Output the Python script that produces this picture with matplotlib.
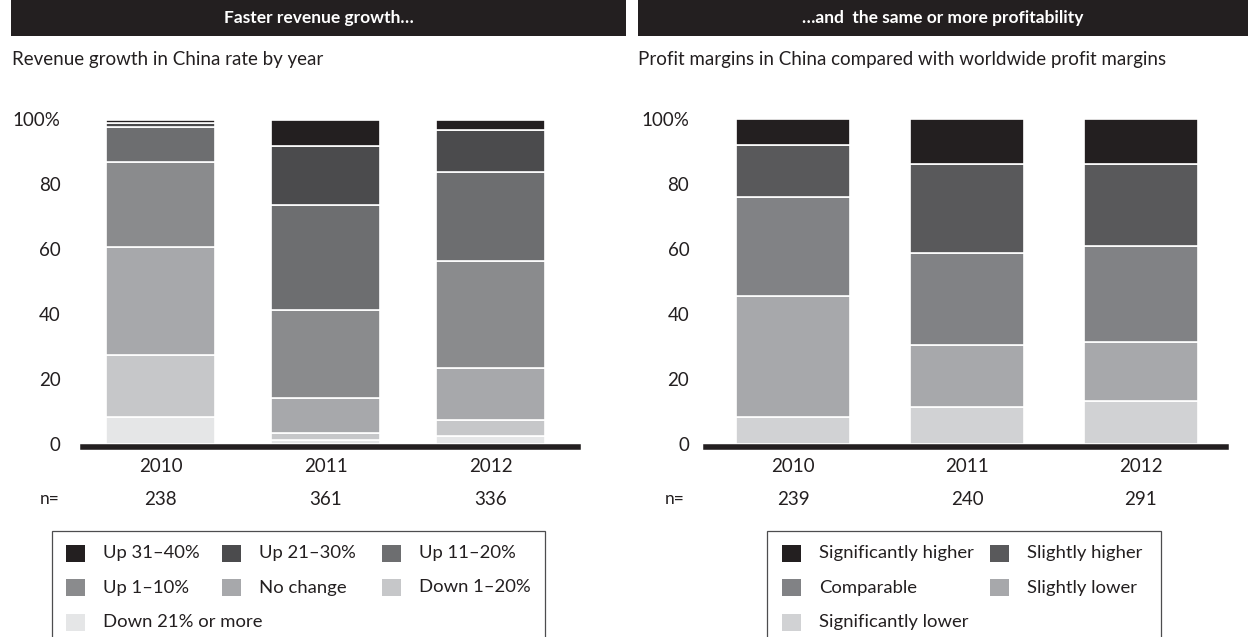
import matplotlib
matplotlib.use('Agg')
import matplotlib.pyplot as plt
from matplotlib.patches import Rectangle

plt.rcParams['font.family'] = ['Lato', 'DejaVu Sans']

W, H = 1248, 637

years = ['2010', '2011', '2012']
n_rev = ['238', '361', '336']
n_prof = ['239', '240', '291']

# Crecimiento de ingresos (de abajo hacia arriba)
rev_labels = ['Down 21% or more', 'Down 1–20%', 'No change', 'Up 1–10%',
              'Up 11–20%', 'Up 21–30%', 'Up 31–40%']
rev_colors = ['#e5e6e7', '#c6c7c9', '#a7a8ab', '#8a8b8d',
              '#6d6e70', '#4b4b4d', '#231f20']
rev_down21 = [8.3, 1.1, 2.4]
rev_down1_20 = [19.1, 2.3, 4.9]
rev_nochange = [33.2, 10.8, 16.0]
rev_up1_10 = [26.1, 27.1, 33.1]
rev_up11_20 = [10.9, 32.2, 27.3]
rev_up21_30 = [1.2, 18.1, 13.0]
rev_up31_40 = [0.8, 8.0, 2.9]
rev_series = [rev_down21, rev_down1_20, rev_nochange, rev_up1_10,
              rev_up11_20, rev_up21_30, rev_up31_40]

# Margenes (de abajo hacia arriba)
prof_labels = ['Significantly lower', 'Slightly lower', 'Comparable',
               'Slightly higher', 'Significantly higher']
prof_colors = ['#d1d2d4', '#a7a8ab', '#818285', '#59595b', '#231f20']
prof_sig_lower = [8.4, 11.3, 13.3]
prof_sl_lower = [37.1, 19.2, 18.2]
prof_comparable = [30.4, 28.3, 29.3]
prof_sl_higher = [16.0, 27.3, 25.3]
prof_sig_higher = [8.1, 13.9, 13.9]
prof_series = [prof_sig_lower, prof_sl_lower, prof_comparable,
               prof_sl_higher, prof_sig_higher]

DARK = '#231f20'
TXT = '#231f20'


def rect(x0, y0, x1, y1):
    # pixeles (arriba-izquierda) -> coordenadas de figura
    return [x0 / W, 1 - y1 / H, (x1 - x0) / W, (y1 - y0) / H]


fig = plt.figure(figsize=(W / 100, H / 100), dpi=100)

# Cabeceras negras
for (x0, x1, title) in [(11, 626, 'Faster revenue growth…'),
                        (638, 1248, '…and  the same or more profitability')]:
    r = rect(x0, 0, x1, 36)
    fig.patches.append(Rectangle((r[0], r[1]), r[2], r[3], transform=fig.transFigure,
                                 facecolor=DARK, edgecolor='none'))
    fig.text(r[0] + r[2] / 2, r[1] + r[3] / 2, title, color='white', fontsize=12.5,
             fontweight='bold', ha='center', va='center')

fig.text(12 / W, 1 - 60 / H, 'Revenue growth in China rate by year',
         fontsize=13.5, color=TXT, va='center', ha='left')
fig.text(638 / W, 1 - 60 / H, 'Profit margins in China compared with worldwide profit margins',
         fontsize=13.5, color=TXT, va='center', ha='left')


def panel(box, series, colors, nvals, xlim, n_x, ypad):
    ax = fig.add_axes(rect(*box))
    x = range(len(years))
    bottom = [0] * len(years)
    for vals, col in zip(series, colors):
        ax.bar(x, vals, bottom=bottom, width=0.66, color=col,
               edgecolor='white', linewidth=1.2)
        bottom = [b + v for b, v in zip(bottom, vals)]
    ax.set_xlim(*xlim)
    ax.set_ylim(0, 100)
    for s in ['top', 'right', 'left']:
        ax.spines[s].set_visible(False)
    ax.spines['bottom'].set_linewidth(4)
    ax.spines['bottom'].set_color(DARK)
    ax.spines['bottom'].set_position(('outward', 2))
    ax.set_yticks([0, 20, 40, 60, 80, 100])
    ax.set_yticklabels(['0', '20', '40', '60', '80', '100%'])
    ax.set_xticks(list(x))
    ax.set_xticklabels(years)
    ax.tick_params(axis='both', length=0, labelsize=13.5, colors=TXT)
    ax.tick_params(axis='y', pad=ypad)
    ax.tick_params(axis='x', pad=8)
    for i, nv in enumerate(nvals):
        ax.text(i, -0.17, nv, transform=ax.get_xaxis_transform(),
                ha='center', va='center', fontsize=13.5, color=TXT)
    fig.text(n_x / W, 1 - 499 / H, 'n=', fontsize=12.5, color=TXT, va='center')
    return ax


axL = panel((83, 119, 578, 444), rev_series, rev_colors, n_rev,
            (-0.470, 2.530), 40, 16)
axR = panel((706, 119, 1226, 444), prof_series, prof_colors, n_prof,
            (-0.500, 2.489), 665, 12)


def legend_box(x0, x1, top, labels, colors, col_x, row_h=34.5):
    # recuadro abierto por abajo (se corta en el borde de la figura)
    r = rect(x0, top, x1, H + 20)
    fig.patches.append(Rectangle((r[0], r[1]), r[2], r[3], transform=fig.transFigure,
                                 facecolor='none', edgecolor='#4d4d4f', linewidth=0.9))
    for k, (lab, col) in enumerate(zip(labels, colors)):
        row, c = divmod(k, len(col_x))
        yc = top + 22 + row * row_h
        sx = col_x[c]
        s = rect(sx, yc - 8.5, sx + 19, yc + 8.5)
        fig.patches.append(Rectangle((s[0], s[1]), s[2], s[3], transform=fig.transFigure,
                                     facecolor=col, edgecolor='none'))
        fig.text((sx + 37) / W, 1 - yc / H, lab, fontsize=13.3, color=TXT,
                 va='center', ha='left')


# leyendas por filas, de oscuro a claro
legend_box(52, 545, 531, rev_labels[::-1], rev_colors[::-1], [66, 222, 382])
legend_box(767, 1161, 531, prof_labels[::-1], prof_colors[::-1], [782, 990])

fig.savefig('out.png', dpi=100)
